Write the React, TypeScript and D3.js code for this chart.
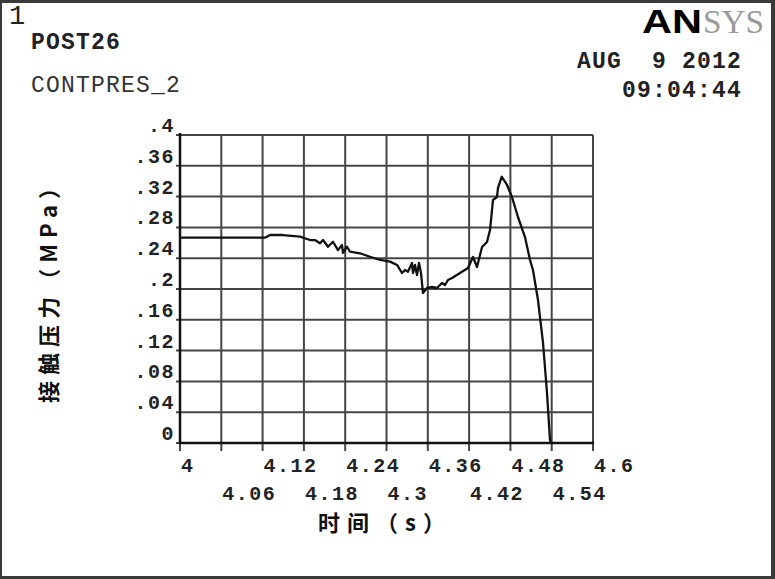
import React from "react";
import * as d3 from "d3";

const X_TICKS = [4, 4.06, 4.12, 4.18, 4.24, 4.3, 4.36, 4.42, 4.48, 4.54, 4.6];
const X_TICK_LABELS = ["4", "4.06", "4.12", "4.18", "4.24", "4.3", "4.36", "4.42", "4.48", "4.54", "4.6"];
const Y_TICKS = [0, 0.04, 0.08, 0.12, 0.16, 0.2, 0.24, 0.28, 0.32, 0.36, 0.4];
const Y_TICK_LABELS = ["0", ".04", ".08", ".12", ".16", ".2", ".24", ".28", ".32", ".36", ".4"];

const TIME = [
  4.0, 4.1235, 4.1308, 4.1496, 4.1743, 4.1889, 4.1961, 4.2034, 4.2078, 4.215, 4.2223,
  4.2295, 4.2354, 4.2368, 4.2426, 4.247, 4.2615, 4.276, 4.2906, 4.3051, 4.3153, 4.3225,
  4.3269, 4.3312, 4.337, 4.3385, 4.3414, 4.3443, 4.3472, 4.3501, 4.353, 4.3588, 4.3661,
  4.3734, 4.3806, 4.385, 4.3893, 4.3952, 4.4068, 4.4184, 4.4257, 4.4315, 4.4388, 4.446,
  4.4504, 4.4547, 4.4605, 4.462, 4.4674, 4.4751, 4.4823, 4.491, 4.5012, 4.5085, 4.5128,
  4.5201, 4.5274, 4.5332, 4.5375, 4.539,
];
const PRESSURE = [
  0.2666, 0.2666, 0.2701, 0.2701, 0.2679, 0.2636, 0.2636, 0.2594, 0.2636, 0.2549, 0.2614,
  0.2506, 0.2571, 0.2468, 0.2549, 0.2484, 0.2464, 0.2419, 0.2377, 0.2355, 0.2312, 0.2208,
  0.2247, 0.2225, 0.2338, 0.2208, 0.2312, 0.2182, 0.2338, 0.2208, 0.1948, 0.2013, 0.2026,
  0.2013, 0.2078, 0.2052, 0.2117, 0.2143, 0.2208, 0.2273, 0.2416, 0.2286, 0.2545, 0.261,
  0.2766, 0.3156, 0.3195, 0.3312, 0.3458, 0.3351, 0.3195, 0.2935, 0.2675, 0.2377, 0.2247,
  0.1857, 0.1299, 0.0649, 0.0039, 0.0,
];

const HEADER_LEFT = ["POST26", "CONTPRES_2"];
const DATE_TEXT = "AUG  9 2012";
const TIME_TEXT = "09:04:44";
const X_TITLE = "时间（s）";
const Y_TITLE = "接触压力（MPa）";

const W = 775;
const H = 579;
const MONO = "'Liberation Mono', 'DejaVu Sans Mono', monospace";
const CJK = "'Noto Sans CJK SC', 'Noto Sans', sans-serif";

export default function App() {
  const x = d3.scaleLinear().domain([4, 4.6]).range([180, 593]);
  const y = d3.scaleLinear().domain([0, 0.4]).range([443, 135]);
  const data = TIME.map((t, i) => [t, PRESSURE[i]] as [number, number]);
  const line = d3
    .line<[number, number]>()
    .x((d) => x(d[0]))
    .y((d) => y(d[1]));

  const gridColor = "#454545";

  return (
    <svg
      width={W}
      height={H}
      style={{ position: "absolute", left: 0, top: 0, display: "block", background: "#fff" }}
    >
      <rect x={0} y={0} width={W} height={H} fill="#fff" />
      {/* outer frame */}
      <rect x={0} y={0} width={W} height={3} fill="#3a3a3a" />
      <rect x={0} y={0} width={2} height={H} fill="#3a3a3a" />
      <rect x={771} y={0} width={4} height={H} fill="#3a3a3a" />
      <rect x={0} y={576} width={W} height={3} fill="#3a3a3a" />

      {/* header */}
      <text x={9} y={24} fontFamily={MONO} fontSize={27} fill="#222">1</text>
      <text x={31} y={49} fontFamily={MONO} fontSize={23} fontWeight="bold" letterSpacing={1.2} fill="#222">
        {HEADER_LEFT[0]}
      </text>
      <text x={31} y={92} fontFamily={MONO} fontSize={23} letterSpacing={1.2} fill="#333">
        {HEADER_LEFT[1]}
      </text>
      <text
        x={742}
        y={68}
        textAnchor="end"
        fontFamily={MONO}
        fontSize={23}
        fontWeight="bold"
        letterSpacing={1.2}
        fill="#222"
        style={{ whiteSpace: "pre" }}
      >
        {DATE_TEXT}
      </text>
      <text x={742} y={97} textAnchor="end" fontFamily={MONO} fontSize={23} fontWeight="bold" letterSpacing={1.2} fill="#222">
        {TIME_TEXT}
      </text>
      <text y={33} fontSize={34}>
        <tspan x={642} fontFamily="'Liberation Sans', Arial, sans-serif" fontWeight="bold" fill="#000" textLength={60} lengthAdjust="spacingAndGlyphs">
          AN
        </tspan>
        <tspan x={703} fontFamily="'Liberation Serif', serif" fill="#999" textLength={61} lengthAdjust="spacingAndGlyphs">
          SYS
        </tspan>
      </text>

      {/* grid */}
      {Y_TICKS.map((v, i) => (
        <line key={"gy" + i} x1={176} x2={593} y1={y(v)} y2={y(v)} stroke={gridColor} strokeWidth={2} />
      ))}
      {X_TICKS.map((v, i) => (
        <line key={"gx" + i} x1={x(v)} x2={x(v)} y1={135} y2={451} stroke={gridColor} strokeWidth={2} />
      ))}
      {/* axes */}
      <line x1={180} x2={180} y1={133} y2={444} stroke="#111" strokeWidth={2.5} />
      <line x1={179} x2={594} y1={443} y2={443} stroke="#111" strokeWidth={2.5} />

      {/* tick labels */}
      {Y_TICKS.map((v, i) => (
        <text
          key={"yl" + i}
          x={175}
          y={y(v) - 3}
          textAnchor="end"
          fontFamily={MONO}
          fontSize={20}
          fontWeight="bold"
          letterSpacing={1.5}
          fill="#222"
        >
          {Y_TICK_LABELS[i]}
        </text>
      ))}
      {X_TICKS.map((v, i) => (
        <text
          key={"xl" + i}
          x={x(v) + 1}
          y={i % 2 === 0 ? 472 : 500}
          fontFamily={MONO}
          fontSize={20}
          fontWeight="bold"
          letterSpacing={1.5}
          fill="#222"
        >
          {X_TICK_LABELS[i]}
        </text>
      ))}

      {/* curve */}
      <path d={line(data) || ""} fill="none" stroke="#111" strokeWidth={2.3} strokeLinejoin="round" />

      {/* axis titles */}
      <text x={318} y={531} fontFamily={CJK} fontSize={22} fontWeight="bold" fill="#111" textLength={127} lengthAdjust="spacing">
        {X_TITLE}
      </text>
      <text
        transform="translate(57,403) rotate(-90)"
        x={0}
        y={0}
        fontFamily={CJK}
        fontSize={22}
        fontWeight="bold"
        fill="#111"
        textLength={226}
        lengthAdjust="spacing"
      >
        {Y_TITLE}
      </text>
    </svg>
  );
}
